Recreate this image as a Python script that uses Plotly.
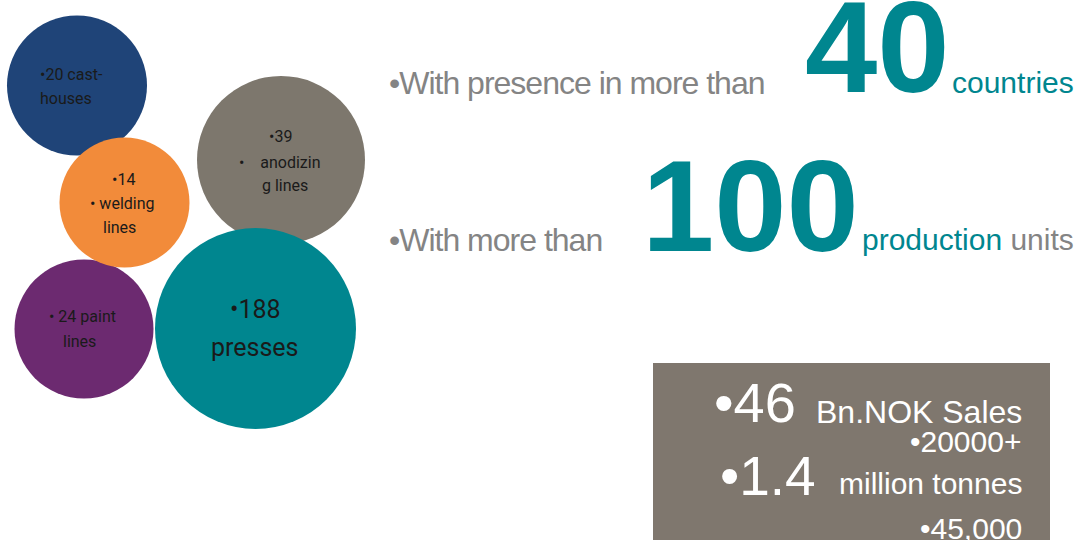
import plotly.graph_objects as go

# ---------------- data ----------------
counts = [20, 24, 14, 39, 188]
unit_names = ["cast-houses", "paint lines", "welding lines", "anodizing lines", "presses"]
bubble_colors = ["#1F4478", "#6C2A70", "#F28B3A", "#7D776D", "#00868F"]

countries = 40
production_units = 100
sales_bn_nok = 46
employees = "20000+"
million_tonnes = 1.4
extra_figure = "45,000"

# ---------------- layout constants (pixels) ----------------
W, H = 1079, 540
centers_x = [77, 84, 124.5, 281, 255.5]
centers_y = [85.5, 329, 202.5, 160, 328.5]
diameters = [140, 139, 130, 168, 201]

TEAL = "#00868F"
GREY_TXT = "#848484"
BOX = "#7F776E"
SANS = "Liberation Sans, Arial, sans-serif"
CIRC = "Roboto, Arial, sans-serif"
ASC = 0.905   # ascent of Liberation Sans
DESC = 0.212  # descent of Liberation Sans

fig = go.Figure()
fig.add_trace(go.Scatter(
    x=centers_x, y=centers_y, mode="markers",
    marker=dict(size=diameters, sizemode="diameter", color=bubble_colors,
                opacity=1, line=dict(width=0)),
    customdata=list(zip(counts, unit_names)),
    hovertemplate="%{customdata[0]} %{customdata[1]}<extra></extra>",
    showlegend=False,
))

ann = []


def txt(text, x, baseline, size, color, xanchor="left", bold=False, family=SANS, spacing=None):
    if spacing is not None:
        text = f"<span style='letter-spacing:{spacing}px'>{text}</span>"
    top = baseline - 1 - ASC * size
    if top >= 0:
        y, ya = top, "top"
    else:
        y, ya = baseline + 1 + DESC * size, "bottom"
    ann.append(dict(
        text=text, x=x, y=y, xref="x", yref="y",
        xanchor=xanchor, yanchor=ya, showarrow=False,
        font=dict(family=family, size=size, color=color, weight="bold" if bold else "normal"),
    ))


def ctxt(text, x, y, size=16, xanchor="left"):
    ann.append(dict(
        text=text, x=x, y=y, xref="x", yref="y", xanchor=xanchor, yanchor="middle",
        showarrow=False, font=dict(family=CIRC, size=size, color="#1A1A1A"),
    ))


# bubble labels
ctxt(f"•{counts[0]} cast-", 38, 74)
ctxt("houses", 38, 98)
ctxt(f"• {counts[1]} paint", 47, 316)
ctxt("lines", 61, 341)
ctxt(f"•{counts[2]}", 123, 179, xanchor="center")
ctxt("• welding", 88, 203)
ctxt("lines", 101, 227)
ctxt(f"•{counts[3]}", 280, 136, xanchor="center")
ctxt("•&nbsp;&nbsp;&nbsp;&nbsp;anodizin", 237, 162)
ctxt("g lines", 260, 185)
ctxt(f"•{counts[4]}", 255, 309, size=25, xanchor="center")
ctxt("presses", 255, 347, size=25, xanchor="center")

# headline rows
txt("•With presence in more than", 387, 93, 32, GREY_TXT, spacing=-1)
txt(f"{countries}", 803, 93, 130, TEAL, bold=True)
txt("countries", 1076, 92, 30, TEAL, xanchor="right")

txt("•With more than", 387, 250, 32, GREY_TXT, spacing=-1)
txt(f"{production_units}", 640, 250, 130, TEAL, bold=True)
txt(f"production <span style='color:{GREY_TXT}'>units</span>", 1076, 249, 30, TEAL, xanchor="right")

# box
fig.add_shape(type="rect", x0=653, x1=1050, y0=363, y1=560, xref="x", yref="y",
              fillcolor=BOX, line=dict(width=0), layer="below")

txt(f"•{sales_bn_nok}", 712, 421, 56, "white")
txt("Bn.NOK Sales", 1024, 422, 32, "white", xanchor="right")
txt(f"•{employees}", 1023, 451, 30, "white", xanchor="right")
txt(f"•{million_tonnes}", 718, 494, 55, "white")
txt("million tonnes", 1024, 493, 30, "white", xanchor="right")
txt(f"•{extra_figure}", 1024, 538, 30, "white", xanchor="right")

fig.update_layout(
    width=W, height=H, margin=dict(l=0, r=0, t=0, b=0),
    paper_bgcolor="white", plot_bgcolor="white",
    xaxis=dict(range=[0, W], visible=False, fixedrange=True),
    yaxis=dict(range=[H, 0], visible=False, fixedrange=True),
    annotations=ann, showlegend=False,
)

fig.write_html("out.html", post_script="document.body.style.margin='0';",
               config={"displayModeBar": False})
